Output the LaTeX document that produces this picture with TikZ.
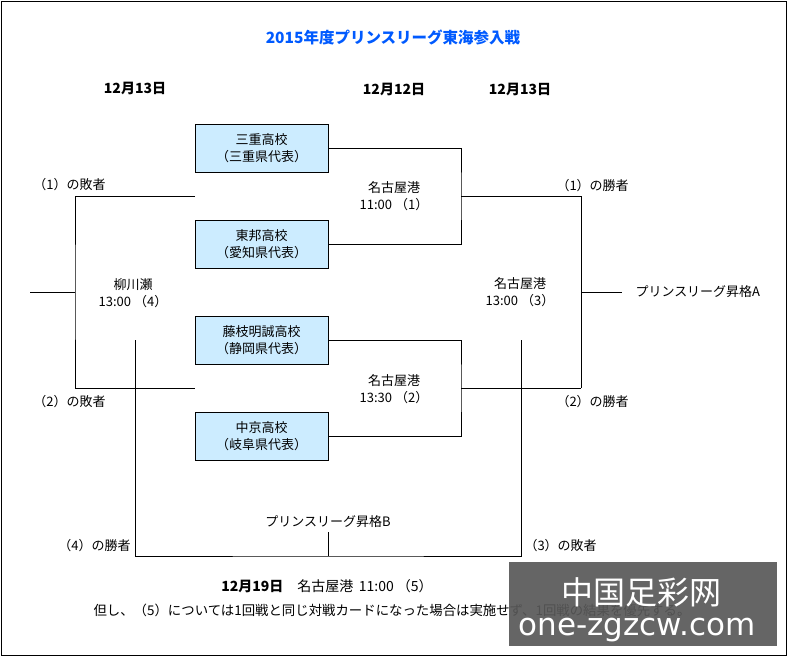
\documentclass[tikz,border=0pt]{standalone}
\usepackage{fontspec}
\setmainfont{Noto Sans CJK JP}
\newfontfamily\wmfont{DejaVu Sans}
\usetikzlibrary{positioning}
\definecolor{teamfill}{RGB}{204,236,255}
\definecolor{titleblue}{RGB}{0,90,255}
\definecolor{wmgray}{RGB}{88,88,88}

\begin{document}
\begin{tikzpicture}[x=1pt,y=-1pt,line width=1pt,
          every node/.style={font=\fontsize{13}{17}\selectfont},
          team/.style={draw,fill=teamfill,minimum width=133pt,minimum height=48pt,
                       align=center,inner sep=0pt},
          lbl/.style={inner sep=0pt,align=center},
          datelbl/.style={inner sep=0pt,font=\fontsize{14}{17}\selectfont\bfseries}]
        \useasboundingbox (0,0) rectangle (788,657);
        \draw (1.5,1.5) rectangle (786,655);
        % title and dates
        \node[lbl,text=titleblue,font=\fontsize{15.5}{17}\selectfont\bfseries] (title) at (393,37)
            {2015年度プリンスリーグ東海参入戦};
        \node[datelbl] (day4) at (135,88) {12月13日};
        \node[datelbl] (day1) at (394,89) {12月12日};
        \node[datelbl] (day3) at (520,89) {12月13日};
        % teams
        \node[team] (mie)     at (261.5,148) {三重高校\\（三重県代表）};
        \node[team] (toho)    at (261.5,244) {東邦高校\\（愛知県代表）};
        \node[team] (fujieda) at (261.5,340) {藤枝明誠高校\\（静岡県代表）};
        \node[team] (chukyo)  at (261.5,436) {中京高校\\（岐阜県代表）};
        % match points
        \coordinate (m1) at (461,196); \coordinate (w1) at (581,196);
        \coordinate (m2) at (461,388); \coordinate (w2) at (581,388);
        \coordinate (m3) at (581,292); \coordinate (outA) at (622,292);
        \coordinate (l1) at (195,196); \coordinate (l2) at (195,388);
        \coordinate (m4) at (75,292);  \coordinate (out4) at (30,292);
        \coordinate (b4) at (135,340); \coordinate (b3) at (521,340);
        \coordinate (m5) at (328,532); \coordinate (m5b) at (328,556);
        % first round
        \draw (mie.east) -| (m1) |- (toho.east);
        \draw (fujieda.east) -| (m2) |- (chukyo.east);
        \draw (m1) -- (w1);
        \draw (m2) -- (w2);
        % (3): winners, (4): losers
        \draw (w1) -- (w2);
        \draw (m3) -- (outA);
        \draw (l1) -| (m4) |- (l2);
        \draw (m4) -- (out4);
        % (5)
        \draw (b4) |- (m5b) -| (b3);
        \draw (m5) -- (m5b);
        % venues
        \node[lbl] (v1) at (394,196) {名古屋港\\11:00 （1）};
        \node[lbl] (v2) at (394,389) {名古屋港\\13:30 （2）};
        \node[lbl] (v3) at (520,292) {名古屋港\\13:00 （3）};
        \node[lbl] (v4) at (133,293) {柳川瀬\\13:00 （4）};
        % results
        \node[lbl,anchor=west] (lose1) at (33,185) {（1）の敗者};
        \node[lbl,anchor=west] (lose2) at (33,402) {（2）の敗者};
        \node[lbl,anchor=west] (win1) at (556,186) {（1）の勝者};
        \node[lbl,anchor=west] (win2) at (556,402) {（2）の勝者};
        \node[lbl,right=13pt of outA] (promA) {プリンスリーグ昇格A};
        \node[lbl,above=4pt of m5] (promB) {プリンスリーグ昇格B};
        \node[lbl,anchor=east] (win4) at (131,546) {（4）の勝者};
        \node[lbl,anchor=west] (lose3) at (524,546) {（3）の敗者};
        % notes
        \node[lbl,font=\fontsize{14}{17}\selectfont] (final) at (327,586)
            {{\bfseries 12月19日}　名古屋港 \,11:00 （5）};
        \node[lbl,font=\fontsize{13.4}{17}\selectfont] (note) at (392,610)
            {但し、（5）については1回戦と同じ対戦カードになった場合は実施せず、1回戦の結果を優先する。};
        % watermark
        \fill[wmgray,opacity=0.92] (509,562) rectangle (777,646);
        \node[lbl,text=white,font=\fontsize{32}{32}\selectfont] (wm1) at (641,592) {中国足彩网};
        \node[lbl,text=white,font=\wmfont\fontsize{31}{31}\selectfont] (wm2) at (637,630) {one-zgzcw.com};
      \end{tikzpicture}
\end{document}
